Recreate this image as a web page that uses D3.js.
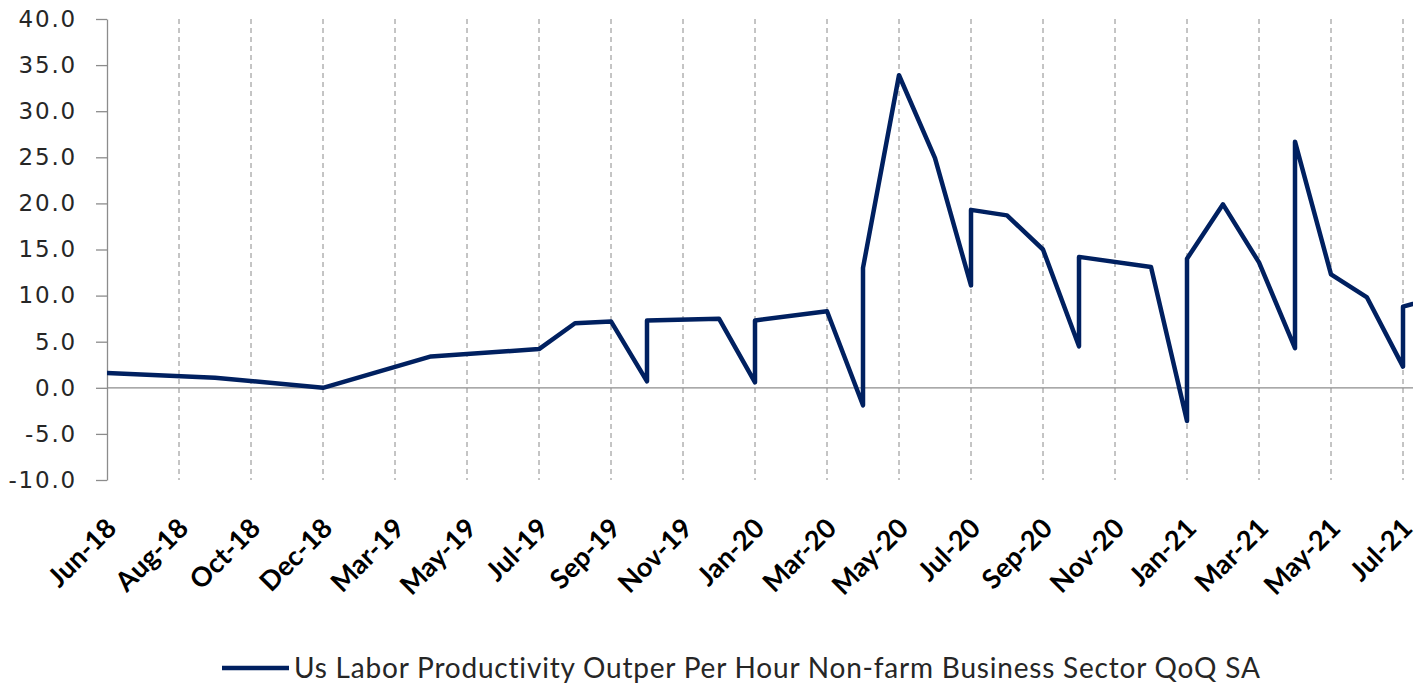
<!DOCTYPE html>
<html lang="en">
<head>
    <meta charset="UTF-8">
    <title>US Labor Productivity QoQ SA</title>
    <style>
        body { margin: 0; background: #fff; }
        .ytick text { font: 23px "DejaVu Sans", sans-serif; fill: #262626; letter-spacing: 1.8px; }
        .xlabel { font: bold 27px Lato, sans-serif; fill: #000; }
        .legend text { font: 28px Lato, sans-serif; fill: #262626; letter-spacing: 0.8px; }
        .grid { stroke: #8a8a8a; stroke-width: 1; stroke-dasharray: 5,4; }
        .axis-line { stroke: #8c8c8c; stroke-width: 1.3; }
    </style>
    <script src="https://d3js.org/d3.v7.min.js"></script>
</head>
<body>
    <div id="chart"></div>
    <script>
        // tick labels, one per two monthly slots
        const tickLabels = ["Jun-18", "Aug-18", "Oct-18", "Dec-18", "Mar-19", "May-19", "Jul-19",
            "Sep-19", "Nov-19", "Jan-20", "Mar-20", "May-20", "Jul-20", "Sep-20", "Nov-20",
            "Jan-21", "Mar-21", "May-21", "Jul-21"];

        // slot index of each observation (repeated slot = revision on the same release month)
        const slots = [0, 3, 6, 9, 12, 13, 14, 15, 15, 17, 18, 18, 20, 21, 21, 22, 23, 24, 24,
            25, 26, 27, 27, 29, 30, 30, 31, 32, 33, 33, 34, 35, 36, 36, 37];
        const values = [1.6, 1.1, 0.0, 3.4, 4.2, 7.0, 7.2, 0.7, 7.3, 7.5, 0.6, 7.3, 8.3, -1.9, 13.0,
            33.9, 24.9, 11.1, 19.3, 18.7, 15.0, 4.5, 14.2, 13.1, -3.6, 14.0, 19.9, 13.6, 4.3, 26.7,
            12.3, 9.8, 2.3, 8.8, 9.9];

        const seriesName = "Us Labor Productivity Outper Per Hour Non-farm Business Sector QoQ SA";
        const yTicks = d3.range(-10, 41, 5);

        const width = 1421, height = 687;
        const plotLeft = 107, plotTop = 19, plotBottom = 480, plotRight = 1413;

        const svg = d3.select("#chart").append("svg")
            .attr("width", width)
            .attr("height", height);

        const x = d3.scaleLinear().domain([0, 36]).range([plotLeft, 1403]);
        const y = d3.scaleLinear().domain([-10, 40]).range([plotBottom, plotTop]);

        svg.append("defs").append("clipPath").attr("id", "plot")
            .append("rect")
            .attr("x", plotLeft).attr("y", 0)
            .attr("width", plotRight - plotLeft).attr("height", height);

        // vertical dashed gridlines at labelled slots
        svg.append("g").selectAll("line")
            .data(tickLabels.map((d, i) => i * 2).filter(d => d > 0))
            .enter().append("line")
            .attr("class", "grid")
            .attr("x1", d => x(d)).attr("x2", d => x(d))
            .attr("y1", y(40)).attr("y2", y(-10));

        // y axis
        const yAxis = svg.append("g")
            .attr("class", "ytick")
            .attr("transform", `translate(${plotLeft},0)`)
            .call(d3.axisLeft(y).tickValues(yTicks).tickFormat(d => d.toFixed(1))
                .tickSize(11).tickSizeOuter(0).tickPadding(19));
        yAxis.select(".domain").attr("stroke", "#8c8c8c").attr("stroke-width", 1.3);
        yAxis.selectAll(".tick line").attr("stroke", "#8c8c8c").attr("stroke-width", 1.3);
        yAxis.selectAll("text").attr("fill", "#262626");

        // horizontal axis at zero
        svg.append("line")
            .attr("class", "axis-line")
            .attr("x1", plotLeft).attr("x2", plotRight)
            .attr("y1", y(0)).attr("y2", y(0));

        // category labels, rotated
        svg.append("g").selectAll("text")
            .data(tickLabels)
            .enter().append("text")
            .attr("class", "xlabel")
            .attr("text-anchor", "end")
            .attr("transform", (d, i) => `translate(${x(i * 2) + 11},${plotBottom + 50}) rotate(-45)`)
            .text(d => d);

        // series line
        const points = slots.map((s, i) => [s, values[i]]);
        const line = d3.line().x(d => x(d[0])).y(d => y(d[1]));

        svg.append("path")
            .datum(points)
            .attr("clip-path", "url(#plot)")
            .attr("fill", "none")
            .attr("stroke", "#002060")
            .attr("stroke-width", 4.5)
            .attr("stroke-linejoin", "round")
            .attr("d", line);

        // legend
        const legend = svg.append("g").attr("class", "legend");
        legend.append("line")
            .attr("x1", 222).attr("x2", 289)
            .attr("y1", 668).attr("y2", 668)
            .attr("stroke", "#002060")
            .attr("stroke-width", 4.5);
        legend.append("text")
            .attr("x", 294).attr("y", 678)
            .text(seriesName);
    </script>
</body>
</html>
